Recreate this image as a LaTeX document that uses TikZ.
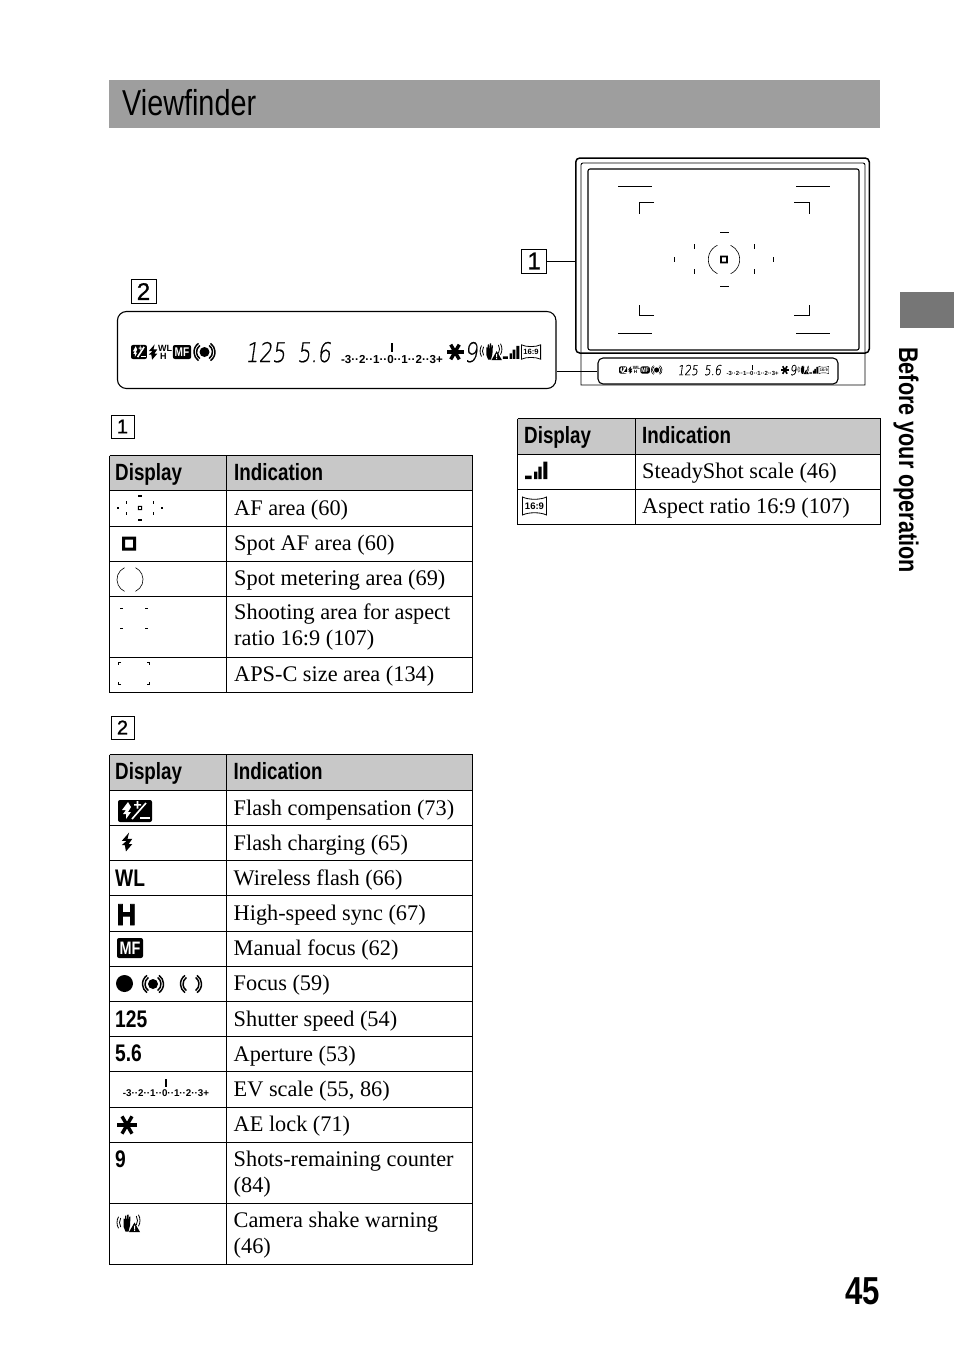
\documentclass[tikz,border=0pt]{standalone}
\usepackage{fontspec}
\setmainfont{Liberation Serif}
\setsansfont{Liberation Sans}
\newfontfamily\condfont[FakeStretch=.8]{Liberation Sans}
\newfontfamily\headfont[FakeStretch=.8]{Liberation Sans}
\newfontfamily\heavyfont[FakeStretch=.9,FakeBold=2.5]{Liberation Sans Bold}
\newfontfamily\boxfont[FakeBold=1]{Liberation Sans}
\newfontfamily\segfont[FakeStretch=.78,FakeSlant=.14,FakeBold=.6]{DejaVu Sans ExtraLight}
\usetikzlibrary{positioning}
\definecolor{bandgray}{RGB}{158,158,158}
\definecolor{headgray}{RGB}{200,200,200}
\definecolor{tabgray}{RGB}{118,118,118}
\newcommand{\rowfont}{\fontsize{22.3}{25.6}\selectfont}
\newcommand{\hdfont}{\headfont\bfseries\fontsize{23.5}{24}\selectfont}
\tikzset{
    rule/.style={line width=.9pt},
    iconline/.style={line width=1.5pt},
    thinline/.style={line width=.8pt},
    starline/.style={line width=3.4pt},
    afw/.store in=\afw,afw=.5,
    secbox/.style={draw,line width=.9pt,inner sep=0pt,minimum width=23pt,minimum height=23pt,font=\boxfont\fontsize{20}{20}\selectfont},
    topbox/.style={secbox,minimum width=25pt,minimum height=24pt,font=\boxfont\fontsize{24}{24}\selectfont},
    rowtext/.style={anchor=base west,inner sep=0pt,align=left,font=\rowfont},
    hdtext/.style={anchor=base west,inner sep=0pt,font=\hdfont},
    boldcell/.style={anchor=base west,inner sep=0pt,font=\headfont\bfseries\fontsize{24}{24}\selectfont},
    afmarks/.pic={
        \foreach \sx in {-1,1} {
            \fill (\sx*30-\afw,-15) rectangle (\sx*30+\afw,-10);
            \fill (\sx*30-\afw,10) rectangle (\sx*30+\afw,15);
            \fill (\sx*49.5-\afw,-2.5) rectangle (\sx*49.5+\afw,2.5);
        }
        \fill (-4.5,-27-\afw) rectangle (4.5,-27+\afw);
        \fill (-4.5,27-\afw) rectangle (4.5,27+\afw);
    },
    spotsquare/.pic={\fill[even odd rule] (-7,-7) rectangle (7,7) (-4,-4) rectangle (4,4);},
    spotarcs/.pic={
        \draw[line width=.6pt] (115:15.7pt) arc[start angle=115,end angle=245,radius=15.7pt];
        \draw[line width=.6pt] (-65:15.7pt) arc[start angle=-65,end angle=65,radius=15.7pt];
    },
    flashcomp/.pic={
        \fill[rounded corners=2pt] (-17,-11) rectangle (17,11);
        \fill[white] (-7,-9) -- (-13,-1) -- (-9,-1) -- (-12,3) -- (-9,3) -- (-9,8) -- (-4,1) -- (-7,1) -- (-4,-4) -- cycle;
        \fill[white] (-1,-7) rectangle (6,-5.4) (1.7,-10) rectangle (3.3,-2.5);
        \draw[white,line width=1.6pt] (-3,8) -- (11,-8);
        \fill[white] (5,6) rectangle (15,8);
    },
    flashbolt/.pic={
        \fill (2,-9) -- (-5,-1) -- (-.5,-1) -- (-5,3) -- (-2,3) -- (-1,9) -- (5,2) -- (1.5,2) -- (5,-3) -- (.5,-3) -- cycle;
    },
    mfbox/.pic={
        \fill[rounded corners=2pt] (-13,-10) rectangle (13,10);
        \node[white,inner sep=0pt,font=\headfont\bfseries\fontsize{18}{18}\selectfont] (mflabel) at (0,.3) {MF};
    },
    focusrings/.pic={
        \foreach \r in {8,10.5} {
            \draw[iconline] (125:\r pt) arc[start angle=125,end angle=235,radius=\r pt];
            \draw[iconline] (-55:\r pt) arc[start angle=-55,end angle=55,radius=\r pt];
        }
    },
    aelock/.pic={
        \foreach \a in {0,60,120} {\draw[starline] (\a:10pt) -- (\a+180:10pt);}
    },
    camshake/.pic={
        \foreach \r in {9,11.5} {
            \draw[thinline] ([shift={(0,-1)}]150:\r pt) arc[start angle=150,end angle=210,radius=\r pt];
            \draw[thinline] ([shift={(0,-3)}]-30:\r pt) arc[start angle=-30,end angle=30,radius=\r pt];
        }
        \fill (-5,-1) -- (-5,-5) -- (-4,-5) -- (-3.6,-1) -- (-3.4,-8) -- (-2.2,-8) -- (-1.8,-1) -- (-1.2,-9) -- (0,-9) -- (0,-1) -- (.8,-7) -- (2,-7) -- (1.5,2) -- (0,8) -- (-3,8) -- (-5,3) -- cycle;
        \fill (.5,8.5) -- (6,-1) -- (11.5,8.5) -- cycle;
        \fill[white] (5.5,2) rectangle (6.5,5.5) (5.5,6.2) rectangle (6.5,7.4);
    },
    steadybars/.pic={
        \fill (-11,5.2) rectangle (-4.3,8.5) (-2,1.2) rectangle (1.3,8.5) (2.3,-3.8) rectangle (5.7,8.5) (7.3,-8.8) rectangle (11.3,8.5);
    },
    aspectbox/.pic={
        \draw[thinline] (-12,-9) .. controls (-6,-6) and (6,-6) .. (12,-9) -- (12,9) .. controls (6,6) and (-6,6) .. (-12,9) -- cycle;
        \node[inner sep=0pt,font=\sffamily\bfseries\fontsize{9.5}{9.5}\selectfont] (aspectlabel) at (0,0) {16:9};
    },
    evscale/.pic={
        \fill (-1,-17) rectangle (1,-9);
        \node[anchor=base,inner sep=0pt,font=\sffamily\bfseries\fontsize{9.8}{10}\selectfont] (evlabel) at (0,0) {-3··2··1··0··1··2··3+};
    },
    lcdicons/.pic={
        \pic[xscale=.47,yscale=.64] at (8,0) {flashcomp};
        \pic[scale=.85] at (22,0) {flashbolt};
        \node[anchor=base west,inner sep=0pt,font=\sffamily\bfseries\fontsize{9}{9}\selectfont] (lcdwl) at (27,-.5) {WL};
        \node[anchor=base west,inner sep=0pt,font=\sffamily\bfseries\fontsize{9}{9}\selectfont] (lcdh) at (29,7.5) {H};
        \pic[scale=.7] at (51,0) {mfbox};
        \fill (73.5,0) circle[radius=5pt];
        \pic at (73.5,0) {focusrings};
        \node[anchor=base west,inner sep=0pt,font=\segfont\fontsize{27}{27}\selectfont] (lcdshutter) at (114,10) {125};
        \node[anchor=base west,inner sep=0pt,font=\segfont\fontsize{27}{27}\selectfont] (lcdaperture) at (166,10) {5.6};
        \pic[scale=1.18] at (261,11) {evscale};
        \pic[scale=.85] at (324,0) {aelock};
        \node[anchor=base west,inner sep=0pt,font=\segfont\fontsize{27}{27}\selectfont] (lcdcount) at (333,10) {9};
        \pic[scale=.95] at (360,0) {camshake};
        \pic[scale=.75] at (380,.5) {steadybars};
        \pic[scale=.8] at (400,0) {aspectbox};
    }
}

\begin{document}
\begin{tikzpicture}[x=1pt,y=-1pt,transform shape]
    \useasboundingbox (0,0) rectangle (954,1345);
    % Title band and side tab
    \fill[bandgray] (109,80) rectangle (880,128);
    \node[anchor=base west,inner sep=0pt,font=\condfont\fontsize{36}{36}\selectfont] (title) at (122,115) {Viewfinder};
    \fill[tabgray] (900,292) rectangle (954,328);
    \node[anchor=base west,inner sep=0pt,rotate=-90,font=\headfont\bfseries\fontsize{27}{27}\selectfont] (sidetab) at (899,347) {Before your operation};
    \node[anchor=base east,inner sep=0pt,font=\condfont\bfseries\fontsize{39}{39}\selectfont] (pagenum) at (880,1304) {45};

    % Viewfinder frames
    \draw[rule] [rounded corners=2pt] (581,270) -- (581,163) -- (865,163) -- (865,270) [sharp corners] -- (865,385) -- (581,385) -- cycle;
    \node[draw,line width=1.5pt,rounded corners=4pt,inner sep=0pt,minimum width=293.5pt,minimum height=195pt] (vfouter) at (722.5,255.5) {};
    \node[draw,line width=1.1pt,rounded corners=2pt,inner sep=0pt,minimum width=271pt,minimum height=181pt] (vfinner) at (723.5,259.5) {};
    % Viewfinder marks
    \foreach \yy in {186,333} {
        \draw[rule] (618,\yy) -- (652,\yy);
        \draw[rule] (796,\yy) -- (830,\yy);
    }
    \draw[rule] (654,202.7) -- (639,202.7) -- (639,214);
    \draw[rule] (794,202.7) -- (809.7,202.7) -- (809.7,214);
    \draw[rule] (654,315) -- (639,315) -- (639,305);
    \draw[rule] (794,315) -- (809.7,315) -- (809.7,305);
    \pic at (724,259) {afmarks};
    \pic[scale=.55] at (724,259.5) {spotsquare};
    \pic at (724,259.5) {spotarcs};

    % Panels
    \node[draw,fill=white,line width=1.1pt,rounded corners=9pt,inner sep=0pt,minimum width=438.5pt,minimum height=77pt] (lcd) at (336.7,350) {};
    \pic at (131,352) {lcdicons};
    \node[draw,fill=white,line width=1.1pt,rounded corners=5pt,inner sep=0pt,minimum width=240pt,minimum height=26pt] (minilcd) at (718,371) {};
    \begin{scope}[iconline/.style={line width=.6pt},thinline/.style={line width=.4pt},starline/.style={line width=1.6pt}]
        \pic[scale=.512] at (619,370) {lcdicons};
    \end{scope}

    % Section boxes and leaders
    \node[topbox] (boxvf) at (534.2,261) {1};
    \node[topbox] (boxlcd) at (143.5,291.5) {2};
    \node[secbox] (boxone) at (122.5,426.5) {1};
    \node[secbox] (boxtwo) at (122.5,727.5) {2};
    \draw[rule] (boxvf.east) -- (boxvf.east -| vfouter.west);
    \draw[rule] (minilcd.west) -- (minilcd.west -| lcd.east);

    % Table 1
    \fill[headgray] (109.5,455.5) rectangle (472.5,490.5);
    \foreach \yy in {455.5,490.5,526.5,561.5,596.5,657.5,692.5} {
        \draw[rule] (109.5,\yy) -- (472.5,\yy);
    }
    \foreach \xx in {109.5,226.5,472.5} {
        \draw[rule] (\xx,455.5) -- (\xx,692.5);
    }
    \node[hdtext] (tonedisplay) at (115,480) {Display};
    \node[hdtext] (toneindic) at (234,480) {Indication};
    \foreach \i/\yy/\txt in {1/515/AF area (60),2/550.5/Spot AF area (60),3/585.5/Spot metering area (69),4/645.5/{Shooting area for aspect\\ratio 16:9 (107)},5/681.5/APS-C size area (134)} {
        \node[rowtext] (tone-\i) at (234,\yy) {\txt};
    }
    \pic[scale=.445,afw=1.6] at (140,508) {afmarks};
    \pic[scale=.3] at (140,508) {spotsquare};
    \pic at (129,543.5) {spotsquare};
    \pic[scale=.83] at (130,579.5) {spotarcs};
    % Shooting area and APS-C corners
    \foreach \xx in {120,145} {
        \foreach \yy in {608,628} {
            \draw[line width=.7pt] (\xx,\yy) -- (\xx+3,\yy);
        }
    }
    \draw[line width=.7pt] (121,662.5) -- (118.5,662.5) -- (118.5,665);
    \draw[line width=.7pt] (147,662.5) -- (149.5,662.5) -- (149.5,665);
    \draw[line width=.7pt] (121,684) -- (118.5,684) -- (118.5,681.5);
    \draw[line width=.7pt] (147,684) -- (149.5,684) -- (149.5,681.5);

    % Table 2
    \fill[headgray] (109.5,754.5) rectangle (472.5,790);
    \foreach \yy in {754.5,790,825.5,860.5,895.5,931,966,1001,1036.5,1071.5,1107,1142,1203,1264.5} {
        \draw[rule] (109.5,\yy) -- (472.5,\yy);
    }
    \foreach \xx in {109.5,226.5,472.5} {
        \draw[rule] (\xx,754.5) -- (\xx,1264.5);
    }
    \node[hdtext] (ttwodisplay) at (115,779) {Display};
    \node[hdtext] (ttwoindic) at (233.5,779) {Indication};
    \foreach \i/\yy/\txt in {1/815/Flash compensation (73),2/850/Flash charging (65),3/885/Wireless flash (66),4/920.5/High-speed sync (67),5/955.5/Manual focus (62),6/990.5/Focus (59),7/1026/Shutter speed (54),8/1061/Aperture (53),9/1096.5/{EV scale (55, 86)},10/1131.5/AE lock (71),11/1192/{Shots-remaining counter\\(84)},12/1253/{Camera shake warning\\(46)}} {
        \node[rowtext] (ttwo-\i) at (233.5,\yy) {\txt};
    }
    \pic at (135,811) {flashcomp};
    \pic[scale=1.05] at (127,842) {flashbolt};
    \node[boldcell] (cellwl) at (115,886) {WL};
    \node[anchor=base west,inner sep=0pt,font=\heavyfont\fontsize{30}{30}\selectfont] (cellh) at (116.5,925) {H};
    \pic at (130,948) {mfbox};
    \fill (124.5,983.5) circle[radius=8.5pt];
    \fill (153,984) circle[radius=5pt];
    \pic at (153,984) {focusrings};
    \pic at (191,984) {focusrings};
    \node[boldcell] (cellshutter) at (115,1027) {125};
    \node[boldcell] (cellaperture) at (115,1061) {5.6};
    \pic at (166,1096) {evscale};
    \pic at (127,1125) {aelock};
    \node[boldcell] (cellcount) at (115,1167) {9};
    \pic at (128.5,1223.5) {camshake};

    % Table 3
    \fill[headgray] (517.5,418.5) rectangle (880.5,454.5);
    \foreach \yy in {418.5,454.5,489.5,524.5} {
        \draw[rule] (517.5,\yy) -- (880.5,\yy);
    }
    \foreach \xx in {517.5,635.5,880.5} {
        \draw[rule] (\xx,418.5) -- (\xx,524.5);
    }
    \node[hdtext] (tthreedisplay) at (524,443) {Display};
    \node[hdtext] (tthreeindic) at (642,443) {Indication};
    \node[rowtext] (tthree-1) at (642,478.5) {SteadyShot scale (46)};
    \node[rowtext] (tthree-2) at (642,513.5) {Aspect ratio 16:9 (107)};
    \pic at (536,470.5) {steadybars};
    \pic at (534.5,506) {aspectbox};
\end{tikzpicture}
\end{document}
